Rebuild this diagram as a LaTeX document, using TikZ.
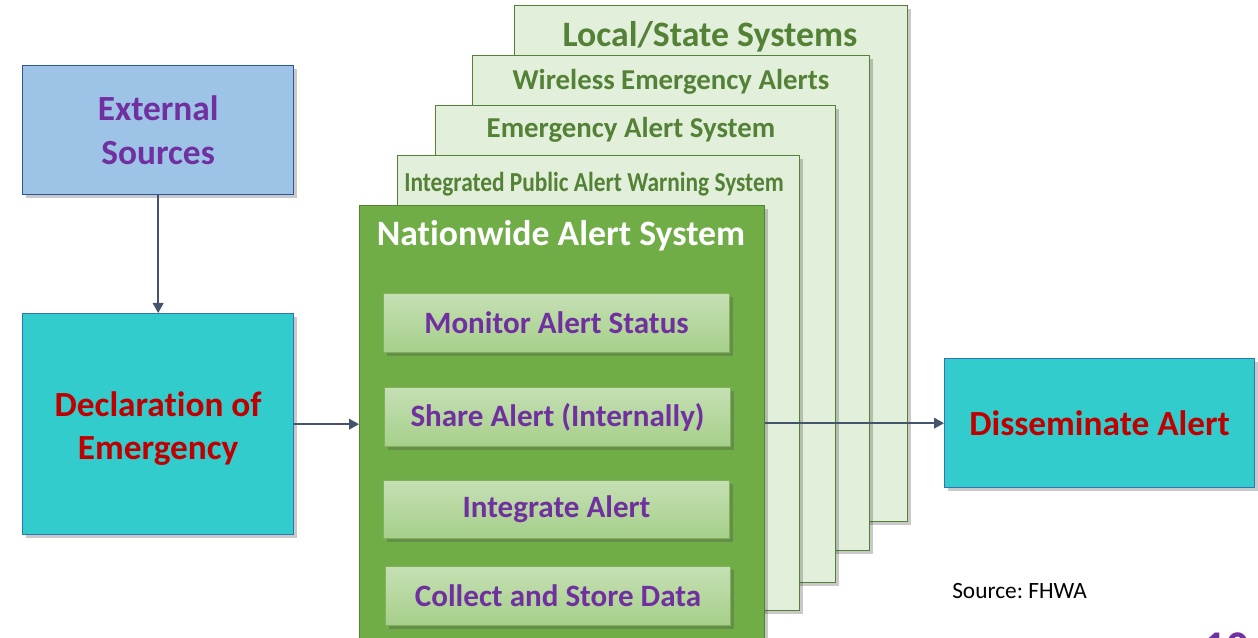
\documentclass[tikz,border=0pt]{standalone}
\usepackage{fontspec}
\setmainfont{Carlito}[Ligatures=NoCommon]
\newfontfamily\condensedfont{Carlito}[FakeStretch=0.85,Ligatures=NoCommon]
\usetikzlibrary{shadows,arrows.meta,calc}

\definecolor{extfill}{HTML}{9DC3E6}
\definecolor{extborder}{HTML}{2F5597}
\definecolor{tealfill}{HTML}{33CCCC}
\definecolor{tealborder}{HTML}{2E75B6}
\definecolor{purpletext}{HTML}{7030A0}
\definecolor{redtext}{HTML}{C00000}
\definecolor{arrowcol}{HTML}{44546A}
\definecolor{natfill}{HTML}{70AD47}
\definecolor{natborder}{HTML}{548235}
\definecolor{cardfill}{HTML}{E2EFDA}
\definecolor{cardborder}{HTML}{538135}
\definecolor{cardtext}{HTML}{538135}
\definecolor{innertop}{HTML}{C5E0B4}
\definecolor{innerbottom}{HTML}{A6CF8A}
\definecolor{innerborder}{HTML}{7FB25A}

\tikzset{
  sz/.style 2 args={minimum width=#1*0.75pt, minimum height=#2*0.75pt},
  boxshadow/.style={drop shadow={shadow xshift=2.5pt, shadow yshift=-2.5pt, opacity=0.3, fill=black!70}},
  basebox/.style={rectangle, anchor=north west, inner sep=0pt, line width=1pt, align=center, boxshadow},
  extbox/.style={basebox, fill=extfill, draw=extborder, text=purpletext,
     font=\bfseries\fontsize{26.5}{33}\selectfont},
  tealbox/.style={basebox, fill=tealfill, draw=tealborder, text=redtext,
     font=\bfseries\fontsize{26.5}{32.5}\selectfont},
  cardbox/.style={basebox, fill=cardfill, draw=cardborder},
  natbox/.style={basebox, fill=natfill, draw=natborder},
  innerbox/.style={basebox, top color=innertop, bottom color=innerbottom, draw=innerborder,
     line width=0.8pt, text=purpletext, font=\bfseries\fontsize{23.3}{27}\selectfont},
  cardlabel/.style={anchor=base, text=cardtext, inner sep=0pt},
  flow/.style={draw=arrowcol, line width=1.3pt, -{Triangle[length=7.5pt,width=8pt]}},
}

\begin{document}
\frenchspacing
\begin{tikzpicture}[x=0.75pt,y=-0.75pt]
\useasboundingbox (0,0) rectangle (1258,638);
\clip (0,0) rectangle (1258,638);

% left column
\node[extbox, sz={271}{129}] (ext) at (22,65) {External\\Sources};
\node[tealbox, sz={271}{221}] (decl) at (22,313) {\rule{0pt}{25pt}Declaration of\\Emergency};

% stacked cards (back to front)
\node[cardbox, sz={393}{516}] (ls) at (514,5) {};
\node[cardlabel, font=\bfseries\fontsize{26.8}{30}\selectfont] (lsl) at (710,47) {Local/State Systems};
\node[cardbox, sz={397}{495}] (wea) at (472,55) {};
\node[cardlabel, font=\bfseries\fontsize{21.6}{25}\selectfont] (weal) at (671,90) {Wireless Emergency Alerts};
\node[cardbox, sz={400}{477}] (eas) at (435,105) {};
\node[cardlabel, font=\bfseries\fontsize{21.6}{25}\selectfont] (easl) at (631,138) {Emergency Alert System};
\node[cardbox, sz={402}{455}] (ipaws) at (397,155) {};
\node[cardlabel, font=\condensedfont\bfseries\fontsize{20.6}{24}\selectfont] (ipawsl) at (594,192) {Integrated Public Alert Warning System};

% nationwide
\node[natbox, sz={405}{460}] (nat) at (359,205) {};
\node[cardlabel, text=white, font=\bfseries\fontsize{26.8}{30}\selectfont] (natl) at (561,246) {Nationwide Alert System};

% inner boxes
\node[innerbox, sz={346}{59}] (mon) at (383,293) {Monitor Alert Status};
\node[innerbox, sz={346}{59}] (share) at (384,387) {Share Alert (Internally)};
\node[innerbox, sz={346}{58}] (integ) at (383,480) {Integrate Alert};
\node[innerbox, sz={345}{59}] (coll) at (385,566) {Collect and Store Data};

% right box
\node[tealbox, sz={310}{129}] (diss) at (944,358) {Disseminate Alert};

% source
\node[anchor=base west, inner sep=0pt, font=\fontsize{17.5}{21}\selectfont] (src) at (952,598) {Source: FHWA};
\node[anchor=base west, inner sep=0pt, text=purpletext, font=\bfseries\fontsize{34}{40}\selectfont] (pnum) at (1203,662) {10};

% connectors
\draw[flow] (ext.south) -- (decl.north);
\draw[flow] (decl.east) -- (decl.east -| nat.west);
\draw[flow] (nat.east |- diss.west) -- (diss.west);
\end{tikzpicture}
\end{document}
